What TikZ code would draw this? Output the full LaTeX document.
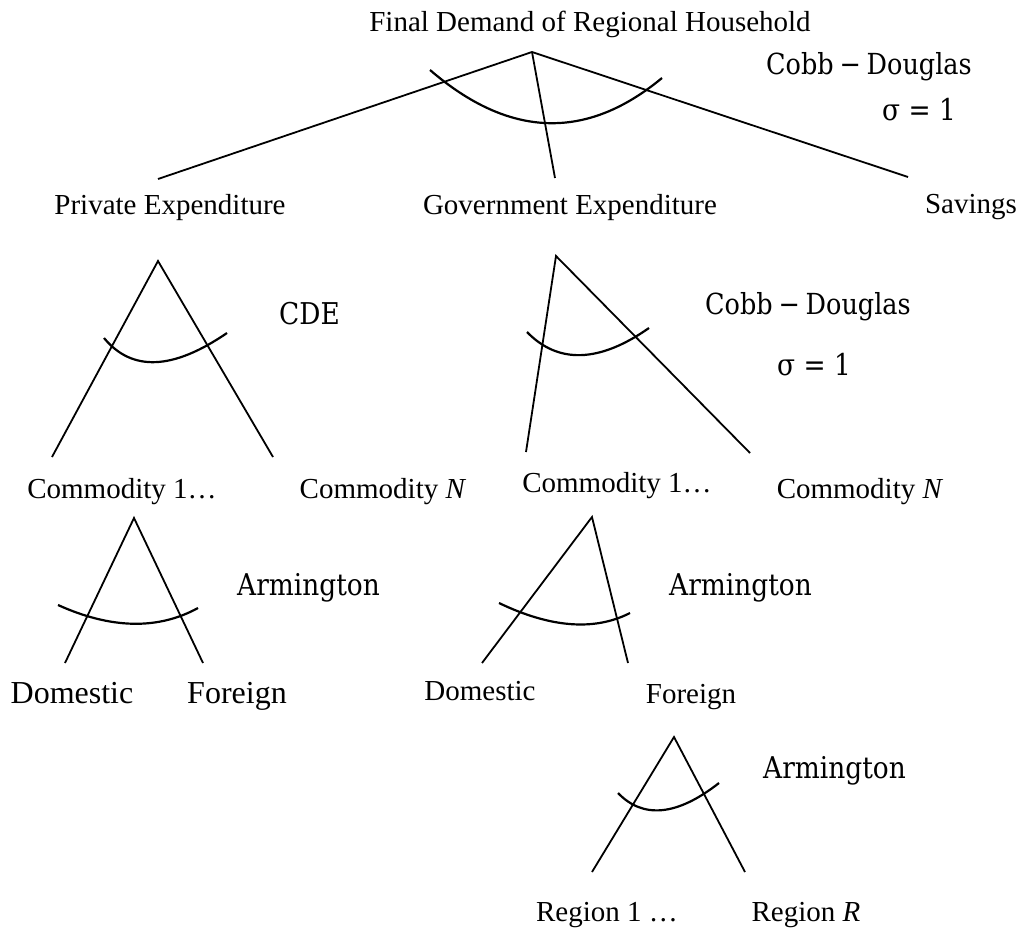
\documentclass[tikz,border=0pt]{standalone}
\usepackage{fontspec}
\setmainfont{Liberation Serif}
\newfontfamily\camfamily[FakeStretch=0.88]{DejaVu Serif}
\newcommand\lblsize{\fontsize{29}{30}\selectfont}
\newcommand\lblbig{\fontsize{32}{33}\selectfont}
\newcommand\camsize{\camfamily\fontsize{30}{31}\selectfont}
\newcommand\cdsize{\camfamily\fontsize{29}{30}\selectfont}
\newcommand\cobbdouglas{Cobb\hspace{0.2em}−\hspace{0.2em}Douglas}
\tikzset{
  lbl/.style={font=\lblsize, inner sep=0pt, anchor=base},
  lblb/.style={font=\lblbig, inner sep=0pt, anchor=base},
  cam/.style={font=\camsize, inner sep=0pt, anchor=base west},
  camcd/.style={font=\cdsize, inner sep=0pt, anchor=base west},
  leg/.style={line width=1.8pt},
  nest/.style={line width=2.2pt}
}
\begin{document}
\begin{tikzpicture}[x=1pt,y=-1pt]
\useasboundingbox (0,0) rectangle (1021,928);
% ---------- level 0 ----------
\node[lbl] (fd) at (590,32) {Final Demand of Regional Household};
\node[camcd] (cd1) at (766,75) {\cobbdouglas};
\node[cam] (s1) at (882,121) {σ = 1};
\coordinate (a0) at (532,52);
\coordinate (e0l) at (158,179);
\coordinate (e0m) at (555,178);
\coordinate (e0r) at (908,177);
\draw[leg] (e0l) -- (a0) -- (e0r);
\draw[leg] (a0) -- (e0m);
\coordinate (c0a) at (430,70);
\coordinate (c0b) at (662,78);
\draw[nest] (c0a) .. controls (509,138) and (586,141) .. (c0b);
\node[lbl] (pe) at (170,215) {Private Expenditure};
\node[lbl] (ge) at (570,215) {Government Expenditure};
\node[lbl] (sv) at (971,214) {Savings};
% ---------- level 1, private ----------
\coordinate (a1) at (158,261);
\coordinate (e1l) at (52,457);
\coordinate (e1r) at (273,457);
\draw[leg] (e1l) -- (a1) -- (e1r);
\coordinate (c1a) at (104,338);
\coordinate (c1b) at (227,333);
\draw[nest] (c1a) .. controls (132,372) and (173,370) .. (c1b);
\node[cam] (cde) at (279,325) {CDE};
\node[lbl] (pc1) at (122,498) {Commodity 1…};
\node[lbl] (pcn) at (383,498) {Commodity \textit{N}};
% ---------- level 1, government ----------
\coordinate (a2) at (556,256);
\coordinate (e2l) at (526,452);
\coordinate (e2r) at (750,453);
\draw[leg] (e2l) -- (a2) -- (e2r);
\coordinate (c2a) at (527,332);
\coordinate (c2b) at (649,328);
\draw[nest] (c2a) .. controls (558,364) and (599,363) .. (c2b);
\node[camcd] (cd2) at (705,315) {\cobbdouglas};
\node[cam] (s2) at (777,375) {σ = 1};
\node[lbl] (gc1) at (617,492) {Commodity 1…};
\node[lbl] (gcn) at (860,498) {Commodity \textit{N}};
% ---------- level 2, private ----------
\coordinate (a3) at (134,518);
\coordinate (e3l) at (65,663);
\coordinate (e3r) at (203,663);
\draw[leg] (e3l) -- (a3) -- (e3r);
\coordinate (c3a) at (58,605);
\coordinate (c3b) at (198,608);
\draw[nest] (c3a) .. controls (111,629) and (158,630) .. (c3b);
\node[cam] (ar1) at (237,595) {Armington};
\node[lblb] (dm1) at (72,703) {Domestic};
\node[lblb] (fr1) at (237,703) {Foreign};
% ---------- level 2, government ----------
\coordinate (a4) at (592,517);
\coordinate (e4l) at (482,663);
\coordinate (e4r) at (628,663);
\draw[leg] (e4l) -- (a4) -- (e4r);
\coordinate (c4a) at (499,603);
\coordinate (c4b) at (630,613);
\draw[nest] (c4a) .. controls (551,628) and (595,631) .. (c4b);
\node[cam] (ar2) at (669,595) {Armington};
\node[lbl] (dm2) at (480,700) {Domestic};
\node[lbl] (fr2) at (691,703) {Foreign};
% ---------- level 3, regions ----------
\coordinate (a5) at (674,737);
\coordinate (e5l) at (592,872);
\coordinate (e5r) at (745,872);
\draw[leg] (e5l) -- (a5) -- (e5r);
\coordinate (c5a) at (618,793);
\coordinate (c5b) at (719,783);
\draw[nest] (c5a) .. controls (643,819) and (677,816) .. (c5b);
\node[cam] (ar3) at (763,778) {Armington};
\node[lbl] (r1) at (607,921) {Region 1 …};
\node[lbl] (rr) at (806,921) {Region \textit{R}};
\end{tikzpicture}
\end{document}
